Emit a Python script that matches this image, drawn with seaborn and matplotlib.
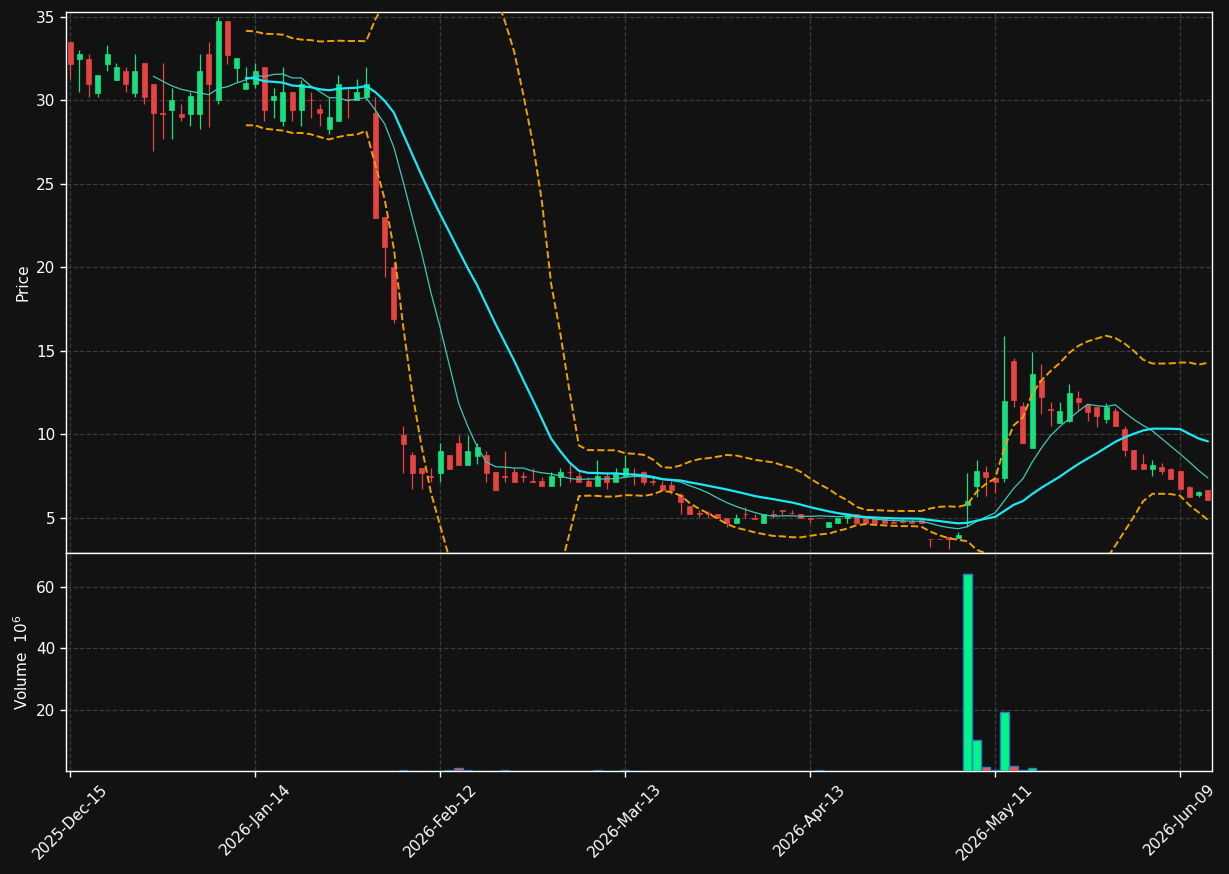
import numpy as np
import pandas as pd
import seaborn as sns
from matplotlib import pyplot as plt

# trading days (NYSE holidays skipped)
holidays = ['2025-12-25', '2026-01-01', '2026-01-19', '2026-02-16', '2026-04-03', '2026-05-25']
dates = pd.bdate_range('2025-12-15', periods=124, freq='C', holidays=holidays)

opens = [33.5, 32.5, 32.5, 30.45, 32.2, 31.25, 31.77, 30.45, 32.25, 31.0,
         29.25, 29.4, 29.2, 29.2, 29.2, 32.8, 30.0, 34.76, 31.95, 30.7,
         31.0, 32.0, 30.0, 28.75, 30.5, 29.43, 30.05, 29.5, 28.28, 28.75,
         30.1, 30.0, 30.23, 29.24, 23.0, 20.0, 9.97, 8.77, 7.97, 7.52,
         7.71, 8.77, 9.49, 8.17, 8.73, 8.77, 7.74, 7.52, 7.74, 7.52,
         7.22, 7.2, 6.93, 7.47, 7.76, 7.5, 7.2, 6.93, 7.5, 7.17,
         7.5, 7.55, 7.74, 7.22, 6.98, 6.98, 6.35, 5.72, 5.3, 5.3,
         5.24, 4.98, 4.72, 5.26, 5.0, 4.72, 5.24, 5.48, 5.32, 5.24,
         5.0, 5.0, 4.48, 4.72, 4.98, 5.22, 4.98, 4.98, 4.98, 4.74,
         4.8, 4.74, 4.88, 3.75, 3.74, 3.84, 3.8, 5.78, 6.93, 7.77,
         7.38, 7.42, 14.4, 11.7, 9.17, 13.26, 11.5, 10.7, 10.83, 12.19,
         11.77, 11.63, 10.93, 11.4, 10.33, 9.07, 8.23, 7.93, 8.05, 7.92,
         7.81, 6.84, 6.38, 6.68]
highs = [33.5, 33.0, 32.8, 31.5, 33.3, 32.25, 32.0, 32.8, 32.25, 31.0,
         32.25, 30.75, 29.8, 30.5, 32.8, 33.5, 35.0, 34.76, 32.55, 32.0,
         32.25, 32.0, 30.73, 32.0, 30.5, 31.2, 30.5, 29.8, 30.23, 31.5,
         30.66, 31.3, 32.0, 30.23, 23.0, 20.3, 10.5, 8.97, 8.0, 7.97,
         9.47, 8.77, 9.97, 9.97, 9.47, 9.0, 7.74, 9.0, 7.97, 7.74,
         7.97, 7.47, 7.74, 7.97, 8.23, 7.74, 7.47, 8.47, 7.74, 7.97,
         8.77, 7.97, 7.8, 7.47, 7.2, 7.2, 6.5, 5.72, 5.48, 5.44,
         5.24, 5.0, 5.22, 5.68, 5.22, 5.22, 5.48, 5.48, 5.48, 5.24,
         5.0, 5.0, 4.74, 4.98, 5.22, 5.22, 4.98, 4.98, 4.98, 4.98,
         4.98, 4.98, 4.88, 3.75, 3.74, 3.84, 4.18, 7.68, 8.47, 8.11,
         7.38, 15.9, 14.56, 11.97, 14.96, 14.2, 11.97, 11.93, 13.0, 12.62,
         11.77, 11.63, 11.87, 11.57, 10.53, 9.07, 8.83, 8.47, 8.27, 8.01,
         7.81, 6.93, 6.6, 6.68]
lows = [31.3, 30.5, 30.2, 30.2, 31.75, 31.25, 30.5, 30.2, 29.8, 27.0,
        27.7, 27.7, 28.8, 28.5, 28.3, 28.4, 29.8, 32.2, 31.1, 30.7,
        30.75, 28.77, 28.97, 28.5, 28.77, 28.5, 28.97, 28.5, 27.97, 28.75,
        28.97, 30.0, 30.0, 22.98, 19.45, 16.7, 7.7, 6.72, 6.72, 7.17,
        7.17, 7.93, 8.17, 8.17, 8.21, 7.17, 6.68, 7.17, 7.17, 7.17,
        7.17, 6.93, 6.93, 6.93, 7.17, 7.17, 6.93, 6.93, 6.72, 7.17,
        7.5, 6.98, 6.98, 6.98, 6.68, 6.44, 5.24, 5.24, 5.08, 4.98,
        4.98, 4.48, 4.72, 4.98, 4.96, 4.72, 4.98, 5.22, 5.22, 4.98,
        4.72, 4.97, 4.48, 4.72, 4.72, 4.72, 4.72, 4.72, 4.72, 4.72,
        4.72, 4.72, 4.72, 3.25, 3.72, 3.13, 3.8, 4.48, 6.24, 6.34,
        6.52, 7.17, 11.66, 9.5, 9.17, 11.23, 10.5, 10.7, 10.75, 11.47,
        10.83, 10.47, 10.67, 10.5, 8.73, 7.95, 7.95, 7.53, 7.63, 7.36,
        6.75, 6.28, 6.28, 6.08]
closes = [32.2, 32.8, 31.0, 31.5, 32.8, 32.0, 31.0, 31.77, 30.2, 29.25,
          29.2, 30.0, 29.0, 30.27, 31.77, 31.0, 34.76, 32.74, 32.55, 31.05,
          31.77, 29.43, 30.27, 30.5, 29.43, 31.0, 30.0, 29.24, 29.0, 31.0,
          30.0, 30.5, 31.0, 22.98, 21.25, 16.93, 9.45, 7.71, 7.71, 7.48,
          9.0, 7.93, 8.17, 9.0, 9.25, 7.71, 6.68, 7.48, 7.17, 7.48,
          7.17, 6.93, 7.5, 7.77, 7.72, 7.17, 6.93, 7.5, 7.17, 7.68,
          7.97, 7.5, 7.17, 7.18, 6.68, 6.68, 5.95, 5.24, 5.26, 5.26,
          4.98, 4.72, 4.98, 5.22, 4.96, 5.22, 5.2, 5.44, 5.28, 4.98,
          4.96, 4.97, 4.74, 4.98, 5.22, 4.72, 4.72, 4.72, 4.72, 4.72,
          4.75, 4.72, 4.72, 3.72, 3.72, 3.72, 3.98, 6.02, 7.81, 7.47,
          7.17, 12.0, 12.07, 9.5, 13.62, 12.23, 11.44, 11.4, 12.47, 11.97,
          11.37, 11.1, 11.63, 10.5, 9.07, 7.95, 7.95, 8.17, 7.83, 7.36,
          6.75, 6.28, 6.54, 6.08]
# volume in millions
volumes = [0.02] * 36 + [0.2, 0.02, 0.02, 0.02, 0.02, 0.25, 0.9, 0.2, 0.02, 0.02,
           0.02, 0.2, 0.02, 0.02, 0.02, 0.02, 0.02, 0.02, 0.02, 0.02,
           0.02, 0.2, 0.02, 0.02, 0.2, 0.02, 0.02, 0.02, 0.02, 0.02,
           0.02, 0.02, 0.02, 0.02, 0.02, 0.02, 0.02, 0.02, 0.02, 0.02,
           0.02, 0.02, 0.02, 0.02, 0.02, 0.2, 0.02, 0.02, 0.02, 0.02,
           0.02, 0.02, 0.02, 0.02, 0.02, 0.02, 0.02, 0.02, 0.02, 0.02,
           0.02, 64.2, 10.1, 1.2, 0.3, 19.2, 1.5, 0.4, 0.9, 0.15,
           0.02, 0.02, 0.15, 0.02, 0.02, 0.02, 0.02, 0.02, 0.02, 0.02,
           0.02, 0.02, 0.02, 0.02, 0.02, 0.02, 0.02, 0.02]

BG = '#121212'
UP, DOWN = '#17e07e', '#e64343'
VUP, VDOWN = '#00f58c', '#ff4f4f'

df = pd.DataFrame({'date': dates, 'open': opens, 'high': highs, 'low': lows,
                   'close': closes, 'volume': volumes})
df['idx'] = np.arange(len(df))
df['mav10'] = df['close'].rolling(10).mean()
df['mav20'] = df['close'].rolling(20).mean()
sd = df['close'].rolling(20).std(ddof=0)
df['upper'] = df['mav20'] + 2 * sd
df['lower'] = df['mav20'] - 2 * sd

sns.set_theme(style='darkgrid', rc={
    'figure.facecolor': BG, 'axes.facecolor': BG, 'axes.edgecolor': 'white',
    'axes.linewidth': 1.0, 'grid.color': '#3a3a3a', 'grid.linestyle': '--',
    'grid.linewidth': 0.9, 'text.color': 'white', 'axes.labelcolor': 'white',
    'xtick.color': 'white', 'ytick.color': 'white', 'xtick.bottom': True,
    'ytick.left': True, 'xtick.major.size': 4, 'ytick.major.size': 4,
    'xtick.major.width': 1, 'ytick.major.width': 1, 'xtick.labelsize': 11,
    'ytick.labelsize': 11, 'axes.labelsize': 11})
plt.rcParams['font.family'] = ['DejaVu Sans']

fig = plt.figure(figsize=(12.29, 8.74), dpi=100)
ax = fig.add_axes([0.0537, 0.3673, 0.9325, 0.619])
axv = fig.add_axes([0.0537, 0.1178, 0.9325, 0.2495], sharex=ax)

up = df['close'] >= df['open']
col = np.where(up, UP, DOWN)
ax.vlines(df['idx'], df['low'], df['high'], colors=col, lw=0.9, zorder=2)
ax.bar(df['idx'], (df['close'] - df['open']).abs(),
       bottom=df[['open', 'close']].min(axis=1), width=0.55,
       color=col, edgecolor=col, linewidth=0.5, zorder=3)

# moving averages and bands
sns.lineplot(data=df, x='idx', y='mav10', ax=ax, color='#3fc8b6', lw=0.9, zorder=4)
sns.lineplot(data=df, x='idx', y='mav20', ax=ax, color='#1ae8f5', lw=1.6, zorder=4)
sns.lineplot(data=df, x='idx', y='upper', ax=ax, color='#f0a000', lw=1.4, linestyle='--', zorder=4)
sns.lineplot(data=df, x='idx', y='lower', ax=ax, color='#f0a000', lw=1.4, linestyle='--', zorder=4)

vcol = np.where(up, VUP, VDOWN)
axv.bar(df['idx'], df['volume'], width=0.9, color=vcol, edgecolor='#2b7fc2',
        linewidth=1.0, zorder=3)

ax.set_xlim(-0.45, 123.45)
ax.set_ylim(2.9, 35.3)
ax.set_yticks([5, 10, 15, 20, 25, 30, 35])
ax.set_ylabel('Price')
ax.set_xlabel('')
ax.tick_params(axis='x', length=0, labelbottom=False)

ticks = np.arange(0, 124, 20)
axv.set_xticks(ticks)
axv.set_xticklabels([d.strftime('%Y-%b-%d') for d in dates[ticks]],
                    rotation=45, ha='center')
axv.set_ylim(0, 71)
axv.set_yticks([20, 40, 60])
axv.set_ylabel('Volume  $10^{6}$')
axv.set_xlabel('')

for a in (ax, axv):
    a.grid(True, color='#3a3a3a', linestyle='--', linewidth=0.9)
    for s in a.spines.values():
        s.set_visible(True)
        s.set_color('white')
        s.set_linewidth(1.0)

fig.savefig('out.png', dpi=100, facecolor=BG)
